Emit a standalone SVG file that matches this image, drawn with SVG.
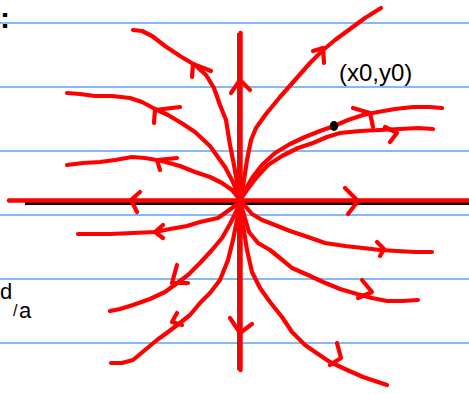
<svg xmlns="http://www.w3.org/2000/svg" width="469" height="394" viewBox="0 0 469 394">
<style>
.rule{stroke:#5aa2f2;stroke-width:1.6;fill:none}
.tr{stroke:#ff0000;stroke-width:4.2;fill:none;stroke-linecap:round;stroke-linejoin:round}
.ax{stroke:#ff0000;stroke-width:4.5;fill:none;stroke-linecap:round}
.ink{font-family:"Liberation Sans","DejaVu Sans",sans-serif;fill:#000}
</style>
<rect width="469" height="394" fill="#fff"/>
<g id="ruled-lines">
<line class="rule" x1="0" y1="23" x2="469" y2="23"/>
<line class="rule" x1="0" y1="87" x2="469" y2="87"/>
<line class="rule" x1="0" y1="151" x2="469" y2="151"/>
<line class="rule" x1="0" y1="215" x2="469" y2="215"/>
<line class="rule" x1="0" y1="279" x2="469" y2="279"/>
<line class="rule" x1="0" y1="343" x2="469" y2="343"/>
</g>
<g id="axes">
<line x1="25" y1="203.5" x2="469" y2="203.5" stroke="#000" stroke-width="3"/>
<line x1="238" y1="33" x2="238" y2="370" stroke="#400" stroke-width="1.5"/>
<line class="ax" x1="9" y1="200.5" x2="469" y2="200.5"/>
<line class="ax" x1="240.5" y1="33" x2="240.5" y2="370"/>
<path class="tr" d="M231,93 L240,80 L250,90"/>
<path class="tr" d="M230,318 L240,333 L252,324"/>
<path class="tr" d="M140,192 L131,200 L137,212"/>
<path class="tr" d="M345,188 L358,201 L348,214"/>
</g>
<g id="connectors">
<g id="traj-a"><path class="tr" d="M240,200 L238,188 L234,165 L230,145 L226,120 L220,105 L214,88 L206,75 L195,65 L180,56 L165,46 L152,36 L142,31 L133,30"/><path class="tr" d="M192,77 L193,64 L211,71"/></g>
<g id="traj-b"><path class="tr" d="M240,200 L233,182 L225,167 L210,146 L195,132 L183,124 L168,115 L155,109 L142,102 L130,98 L112,96 L95,96 L80,94 L67,93"/><path class="tr" d="M154,123 L155,110 L180,107"/></g>
<g id="traj-c"><path class="tr" d="M240,200 L232,190 L222,183 L210,177 L195,172 L180,166 L162,161 L145,158 L132,157 L115,160 L100,162 L83,163 L67,165"/><path class="tr" d="M160,170 L157,160 L177,158"/></g>
<g id="traj-d"><path class="tr" d="M240,200 L244,180 L247,160 L251,140 L256,128 L266,114 L280,97 L295,80 L310,63 L322,51 L335,40 L350,29 L365,18 L381,8"/><path class="tr" d="M313,51 L323,48 L324,63"/></g>
<g id="traj-e"><path class="tr" d="M240,200 L245,190 L252,178 L262,165 L275,153 L290,144 L305,137 L320,131 L334,126 L348,120 L363,115 L378,112 L395,109 L413,107 L430,107 L442,108"/><path class="tr" d="M353,108 L370,113 L373,127"/></g>
<g id="traj-f"><path class="tr" d="M240,200 L247,190 L256,178 L268,165 L282,156 L298,148 L313,143 L327,137 L340,133 L360,131 L380,130 L400,129 L418,128 L433,129"/><path class="tr" d="M385,127 L397,133 L390,142"/></g>
<g id="traj-g"><path class="tr" d="M240,200 L246,207 L252,214 L262,220 L275,225 L290,231 L308,237 L325,243 L345,246 L363,248 L380,250 L397,251 L415,252 L432,252"/><path class="tr" d="M377,242 L384,249 L380,256"/></g>
<g id="traj-h"><path class="tr" d="M240,202 L244,215 L249,232 L258,243 L270,250 L280,258 L292,268 L308,275 L323,282 L340,289 L357,294 L372,298 L387,301 L403,301 L418,300"/><path class="tr" d="M362,280 L372,292 L358,298"/></g>
<g id="traj-i"><path class="tr" d="M240,202 L243,225 L247,250 L252,272 L260,288 L270,302 L282,317 L292,332 L305,345 L318,354 L330,362 L345,369 L363,377 L387,385"/><path class="tr" d="M337,343 L341,358 L330,365"/></g>
<g id="traj-j"><path class="tr" d="M240,202 L232,208 L218,218 L200,222 L187,226 L170,229 L155,232 L133,233 L110,234 L90,234 L78,234"/><path class="tr" d="M163,225 L155,232 L163,238"/></g>
<g id="traj-k"><path class="tr" d="M240,202 L236,212 L230,224 L222,238 L212,250 L200,263 L188,275 L176,284 L165,292 L150,299 L133,305 L120,309 L110,311"/><path class="tr" d="M177,265 L172,283 L188,283"/></g>
<g id="traj-l"><path class="tr" d="M240,202 L237,220 L233,240 L228,260 L220,280 L210,293 L200,303 L190,315 L180,323 L168,332 L157,340 L145,350 L133,360 L122,363 L111,363"/><path class="tr" d="M177,313 L172,322 L182,325"/></g>
</g>
<g id="point-x0y0">
<ellipse cx="334" cy="126" rx="4.2" ry="5" fill="#000"/>
<text class="ink" x="339" y="81" font-size="24">(x0,y0)</text>
</g>
<g id="labels">
<text class="ink" x="0" y="28" font-size="30" font-weight="bold">:</text>
<text class="ink" font-size="22"><tspan x="0" y="299">d</tspan><tspan x="13" y="316" font-size="16">/</tspan><tspan x="19" y="318">a</tspan></text>
</g>
</svg>
